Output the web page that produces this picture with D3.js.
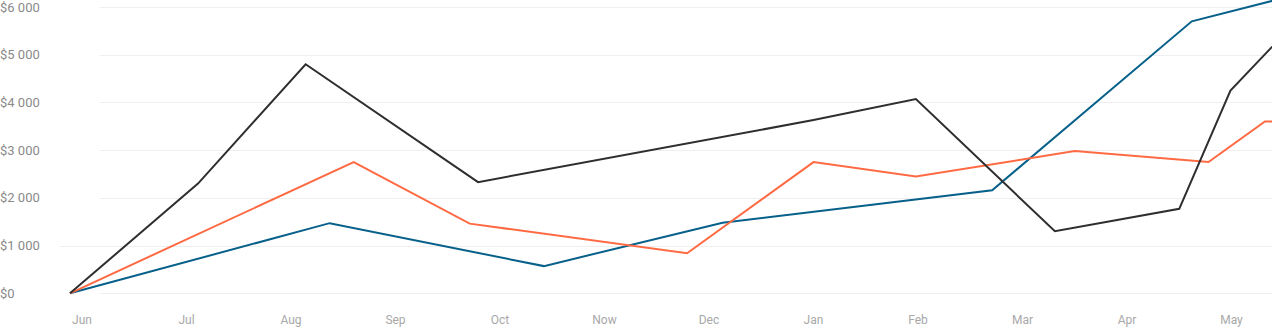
<!DOCTYPE html>
<html>
<head>
<meta charset="utf-8">
<script src="https://cdn.jsdelivr.net/npm/d3@7"></script>
<style>
  html, body { margin: 0; padding: 0; background: #fff; }
  svg { display: block; }
  text { font-family: Roboto, "Noto Sans", sans-serif; }
</style>
</head>
<body>
<svg id="chart" width="1272" height="327"></svg>
<script>
// ---- data ----
const months = ["Jun", "Jul", "Aug", "Sep", "Oct", "Now", "Dec", "Jan", "Feb", "Mar", "Apr", "May"];
const yTicks = [0, 1000, 2000, 3000, 4000, 5000, 6000];

// x values are positions in month units (0 = Jun, 11 = May)
const blackX = [-0.115, 1.11, 2.14, 3.79, 7.0, 7.98, 9.31, 10.5, 10.99, 11.39];
const blackY = [0, 2300, 4800, 2330, 3630, 4070, 1300, 1770, 4250, 5170];

const orangeX = [-0.115, 2.60, 3.71, 5.79, 7.0, 7.98, 9.50, 10.78, 11.32, 11.39];
const orangeY = [0, 2750, 1460, 840, 2750, 2450, 2980, 2750, 3600, 3600];

const blueX = [-0.115, 2.37, 4.42, 6.13, 8.71, 10.62, 11.39];
const blueY = [0, 1470, 570, 1480, 2160, 5700, 6130];

const seriesColors = ["#2e2e2e", "#ff6a43", "#07608a"];

// ---- chart ----
const W = 1272, H = 327;
const svg = d3.select("#chart");

const x = d3.scaleLinear().domain([0, 11]).range([82, 1231.5]);
const y = d3.scaleLinear().domain([0, 6000]).range([293.3, 7]);

const loc = d3.formatLocale({ decimal: ".", thousands: " ", grouping: [3], currency: ["$", ""] });
const fmt = loc.format("$,");

// gridlines
const grid = svg.append("g");
grid.selectAll("line").data(yTicks).join("line")
  .attr("x1", d => d === 1000 ? 60 : 100)
  .attr("x2", W)
  .attr("y1", d => Math.round(y(d)) + 0.5)
  .attr("y2", d => Math.round(y(d)) + 0.5)
  .attr("stroke", "#efefef")
  .attr("stroke-width", 1.2);

// y labels
svg.append("g").selectAll("text").data(yTicks).join("text")
  .attr("x", 0)
  .attr("y", d => y(d))
  .attr("dy", "0.35em")
  .attr("font-size", 13)
  .attr("fill", "#8a8a8a")
  .text(d => fmt(d));

// x labels
svg.append("g").selectAll("text").data(months).join("text")
  .attr("x", (d, i) => x(i))
  .attr("y", 320)
  .attr("dy", "0.35em")
  .attr("text-anchor", "middle")
  .attr("font-size", 12)
  .attr("fill", "#a8a8a8")
  .text(d => d);

// lines
const series = [
  { xs: blueX, ys: blueY, color: seriesColors[2] },
  { xs: orangeX, ys: orangeY, color: seriesColors[1] },
  { xs: blackX, ys: blackY, color: seriesColors[0] }
];
const line = d3.line().x(d => x(d[0])).y(d => y(d[1]));
svg.append("g").selectAll("path").data(series).join("path")
  .attr("d", s => line(s.xs.map((v, i) => [v, s.ys[i]])))
  .attr("fill", "none")
  .attr("stroke", s => s.color)
  .attr("stroke-width", 2)
  .attr("stroke-linejoin", "miter");
</script>
</body>
</html>
